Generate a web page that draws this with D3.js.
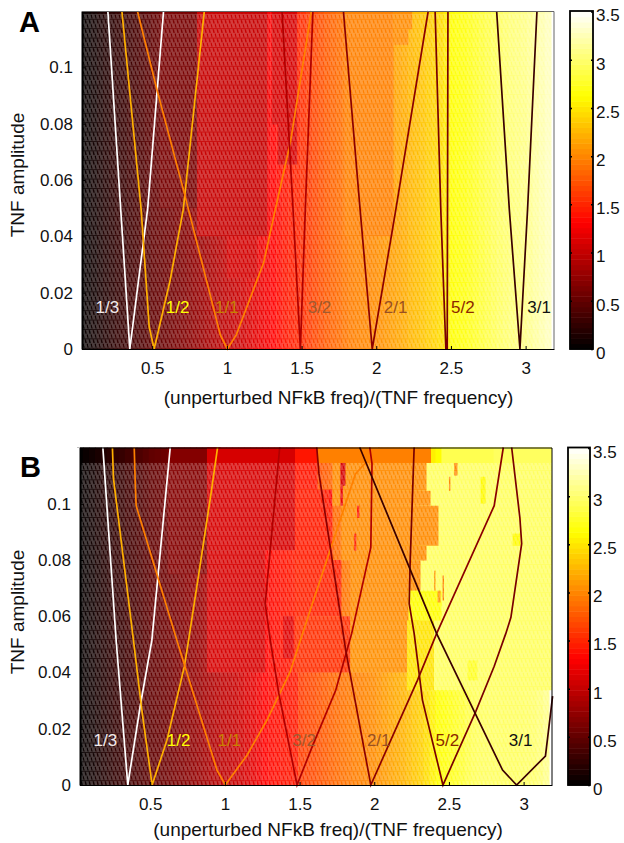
<!DOCTYPE html>
<html>
<head>
<meta charset="utf-8">
<script src="https://cdn.jsdelivr.net/npm/d3@7"></script>
<style>
body { margin: 0; background: #fff; }
text { font-family: "Liberation Sans", Arial, sans-serif; fill: #111; }
.axis text { font-size: 17px; }
.axis line, .axis path { stroke: #000; }
</style>
</head>
<body>
<div id="chart"></div>
<script>
// tick labels
var xTicks = [0.5, 1, 1.5, 2, 2.5, 3];
var yTicks = [0, 0.02, 0.04, 0.06, 0.08, 0.1];
var barTicks = [0, 0.5, 1, 1.5, 2, 2.5, 3, 3.5];
var ratioLabels = ["1/3", "1/2", "1/1", "3/2", "2/1", "5/2", "3/1"];
var lineColors = ["#ffffff", "#ffb000", "#ff8000", "#b00000", "#8b0000", "#7a0000", "#3a0000"];
var labelColors = ["#f2eaea", "#ffff00", "#c88000", "#a05a30", "#9a5020", "#8c2800", "#111111"];

// column values of the heat map, one every 0.04 starting at x=0.03
var columnsA = [.02,.05,.09,.13,.17,.21,.25,.28,.33,.36,.40,.45,.50,.52,.55,.58,.62,.66,.70,.74,
  .79,.84,.89,.93,.98,1.0,1.03,1.07,1.12,1.17,1.22,1.26,1.32,1.37,1.42,1.46,1.50,1.55,1.62,1.68,
  1.73,1.78,1.83,1.87,1.92,1.96,1.98,2.0,2.01,2.03,2.06,2.09,2.13,2.16,2.2,2.25,2.28,2.32,2.36,2.4,
  2.44,2.52,2.62,2.65,2.68,2.72,2.77,2.82,2.87,2.92,2.96,3.0,3.03,3.05,3.08,3.12,3.17,3.22,3.27];
var columnsB = [.02,.05,.09,.13,.17,.21,.25,.28,.33,.36,.40,.45,.50,.52,.55,.58,.62,.66,.70,.74,
  .79,.84,.89,.93,.98,1.0,1.03,1.07,1.12,1.18,1.24,1.32,1.36,1.38,1.40,1.42,1.44,1.62,1.66,1.7,
  1.74,1.78,1.82,1.86,1.9,1.93,1.96,1.98,2.0,2.03,2.07,2.11,2.15,2.19,2.23,2.28,2.33,2.38,2.45,2.55,
  2.62,2.66,2.7,2.75,2.8,2.87,2.92,2.94,2.95,2.95,2.95,2.95,2.95,2.95,2.96,2.97,2.99,3.03,3.1];

// plateaus laid over the columns: x0, x1, y0, y1, value
var patchesA = [
  [0.55, 0.80, 0.05, 0.12, 0.62],
  [0.80, 1.27, 0.04, 0.12, 1.02],
  [1.00, 1.20, 0.025, 0.04, 1.08],
  [1.30, 1.47, 0.0797, 0.12, 1.1],
  [1.34, 1.47, 0.0655, 0.0797, 1.1],
  [1.79, 2.115, 0.04, 0.12, 1.97],
  [2.115, 2.24, 0.1135, 0.12, 2.03],
  [2.115, 2.215, 0.108, 0.1135, 2.03]
];
var patchesB = [
  [0.62, 0.97, 0.075, 0.12, 0.68],
  [0.88, 1.47, 0.0835, 0.12, 1.1],
  [0.88, 1.27, 0.04, 0.0835, 1.1],
  [1.39, 1.46, 0.045, 0.06, 1.15],
  [1.47, 1.62, 0.105, 0.12, 1.42],
  [1.47, 1.72, 0.08, 0.105, 1.45],
  [1.47, 1.78, 0.06, 0.08, 1.48],
  [1.47, 1.84, 0.04, 0.06, 1.55],
  [2.3, 3.19, 0.0337, 0.1145, 2.95],
  [2.45, 2.8, 0.1145, 0.12, 2.9],
  [2.8, 3.19, 0.1145, 0.12, 2.95],
  [1.62, 2.38, 0.1145, 0.12, 1.97],
  [1.72, 2.35, 0.1046, 0.1145, 2.03],
  [1.72, 2.377, 0.0993, 0.1046, 2.03],
  [1.78, 2.43, 0.0851, 0.0993, 2.03],
  [1.78, 2.35, 0.0798, 0.0851, 2.03],
  [1.84, 2.31, 0.0691, 0.0798, 2.03],
  [1.84, 2.23, 0.0585, 0.0691, 2.03],
  [1.84, 2.22, 0.04, 0.0585, 2.05],
  [2.23, 2.45, 0.0585, 0.0691, 2.62],
  [2.22, 2.4, 0.0337, 0.0585, 2.48],
  // streaks
  [1.773, 1.807, 0.1064, 0.1145, 1.1],
  [1.773, 1.79, 0.0993, 0.1064, 1.2],
  [1.70, 1.715, 0.0993, 0.105, 1.3],
  [1.885, 1.9, 0.095, 0.0993, 1.4],
  [1.865, 1.88, 0.0833, 0.0894, 1.5],
  [2.535, 2.557, 0.11, 0.1145, 2.0],
  [2.50, 2.51, 0.1046, 0.1096, 2.0],
  [2.712, 2.745, 0.1, 0.1096, 2.6],
  [2.926, 2.98, 0.0851, 0.0894, 2.6],
  [2.457, 2.467, 0.0656, 0.0745, 2.0],
  [2.424, 2.444, 0.0649, 0.0691, 2.1],
  [2.40, 2.41, 0.0691, 0.0762, 2.1],
  [2.625, 2.69, 0.0372, 0.0443, 2.75]
];

// tongue outlines, [x, y]
var a13 = [[.203,.12],[.35,0],[.47,.05],[.576,.12]];
var a12 = [[.297,.12],[.426,.0495],[.48,.0078],[.513,0],[.621,.0246],[.674,.0399],[.708,.0495],[.849,.12]];
var a11 = [[.401,.12],[.531,.0922],[.721,.0541],[.956,.005],[1.003,0],[1.063,.005],[1.246,.0306],[1.324,.0495],[1.425,.0733],[1.566,.12]];
var a32 = [[1.369,.12],[1.443,.0495],[1.492,0],[1.525,.0495],[1.576,.12]];
var a21 = [[1.78,.12],[1.892,.0495],[1.973,0],[2.131,.0495],[2.348,.12]];
var a52 = [[2.394,.12],[2.432,.0495],[2.466,0],[2.475,0],[2.477,.0495],[2.48,.12]];
var a31 = [[2.806,.12],[2.891,.0495],[2.962,0],[3.013,.0495],[3.076,.12]];
var curvesA = [a13, a12, a11, a32, a21, a52, a31];

var b13 = [[.183,.12],[.272,.0514],[.35,0],[.433,.028],[.511,.0514],[.634,.12]];
var b12 = [[.247,.12],[.254,.109],[.388,.0514],[.444,.0266],[.513,0],[.612,.0159],[.728,.042],[.757,.0514],[.907,.1035],[.951,.12]];
var b11 = [[.393,.12],[.4,.107],[.406,.0993],[.679,.0514],[.947,.0053],[1.003,0],[1.148,.0106],[1.282,.0231],[1.438,.0404],[1.505,.0514],[1.586,.0645],[1.874,.1106],[2.035,.12]];
var b32 = [[1.367,.12],[1.27,.0645],[1.304,.0514],[1.361,.0326],[1.483,0],[1.586,.0138],[1.742,.0337],[1.849,.0539],[1.977,.0845],[1.985,.1142],[1.97,.12]];
var b21 = [[1.615,.12],[1.63,.1106],[1.706,.0844],[1.809,.0479],[1.977,0],[2.289,.0372],[2.418,.0539],[2.803,.0993],[2.864,.12]];
var b52 = [[2.267,.12],[2.24,.0787],[2.234,.0645],[2.267,.0539],[2.323,.0301],[2.46,0],[2.68,.0262],[2.803,.0422],[2.881,.0539],[2.915,.0596],[2.987,.0858],[2.975,.095],[2.92,.12]];
var b31 = [[1.903,.12],[2.417,.0539],[2.859,.0053],[2.953,0],[3.146,.0103],[3.183,.0266],[3.194,.0316]];
var curvesB = [b13, b12, b11, b32, b21, b52, b31];

var labelXA = [0.2, 0.67, 1.0, 1.62, 2.13, 2.58, 3.09];
var labelXB = [0.2, 0.69, 1.03, 1.53, 2.03, 2.49, 2.98];
var labelYA = 0.0149;
var labelYB = 0.0159;

var svg = d3.select("#chart").append("svg")
    .attr("width", 624)
    .attr("height", 843);

// MATLAB "hot"
var heat = d3.scaleLinear()
    .domain([0, 1.3125, 2.625, 3.5])
    .range(["#000000", "#ff0000", "#ffff00", "#ffffff"])
    .clamp(true);

// white veil with holes, the raw colour shows through the dashes
var defs = svg.append("defs");
defs.append("pattern")
    .attr("id", "weave")
    .attr("patternUnits", "userSpaceOnUse")
    .attr("width", 4)
    .attr("height", 9.4)
  .append("path")
    .attr("fill", "#fff")
    .attr("fill-opacity", 0.24)
    .attr("fill-rule", "evenodd")
    .attr("d", "M0,0.7H4V9.4H0Z M0.6,1.2L2,1.2L2.8,4.8L1.4,4.8Z M2.6,5.4L4,5.4L4,8.9L3.4,8.9Z M0,7L0.8,8.9L0,8.9Z");

function drawPanel(p) {
    var x = d3.scaleLinear().domain([0.03, 3.19]).range([p.left, p.right]);
    var y = d3.scaleLinear().domain([0, 0.12]).range([p.bottom, p.top]);
    var g = svg.append("g");

    g.selectAll(".col")
        .data(p.columns)
        .enter().append("rect")
        .attr("class", "col")
        .attr("x", function(d, i) { return x(0.01 + 0.04 * i); })
        .attr("y", p.top)
        .attr("width", function(d, i) { return x(0.05 + 0.04 * i) - x(0.01 + 0.04 * i) + 0.5; })
        .attr("height", p.bottom - p.top)
        .attr("fill", function(d) { return heat(d); });

    g.selectAll(".patch")
        .data(p.patches)
        .enter().append("rect")
        .attr("class", "patch")
        .attr("x", function(d) { return x(d[0]); })
        .attr("y", function(d) { return y(d[3]); })
        .attr("width", function(d) { return x(d[1]) - x(d[0]); })
        .attr("height", function(d) { return y(d[2]) - y(d[3]); })
        .attr("fill", function(d) { return heat(d[4]); });

    // cover what spills out of the left edge
    g.append("rect")
        .attr("x", p.left - 12)
        .attr("y", p.top)
        .attr("width", 12)
        .attr("height", p.bottom - p.top)
        .attr("fill", "#fff");

    g.append("rect")
        .attr("x", p.left)
        .attr("y", y(p.veilTop))
        .attr("width", p.right - p.left)
        .attr("height", p.bottom - y(p.veilTop))
        .attr("fill", "url(#weave)");

    var line = d3.line()
        .x(function(d) { return x(d[0]); })
        .y(function(d) { return y(d[1]); });

    g.selectAll(".curve")
        .data(p.curves)
        .enter().append("path")
        .attr("class", "curve")
        .attr("d", line)
        .attr("fill", "none")
        .attr("stroke", function(d, i) { return lineColors[i]; })
        .attr("stroke-width", 1.7);

    g.selectAll(".ratio")
        .data(ratioLabels)
        .enter().append("text")
        .attr("class", "ratio")
        .attr("x", function(d, i) { return x(p.labelX[i]); })
        .attr("y", y(p.labelY))
        .attr("dy", "0.35em")
        .attr("text-anchor", "middle")
        .style("font-size", "17px")
        .style("fill", function(d, i) { return labelColors[i]; })
        .text(function(d) { return d; });

    // axes with the MATLAB inward ticks
    g.append("g")
        .attr("class", "axis")
        .attr("transform", "translate(0," + p.bottom + ")")
        .call(d3.axisBottom(x).tickValues(xTicks).tickSizeInner(-3).tickSizeOuter(0).tickPadding(13)
            .tickFormat(function(d) { return String(d); }));

    g.append("g")
        .attr("class", "axis")
        .attr("transform", "translate(" + p.left + ",0)")
        .call(d3.axisLeft(y).tickValues(yTicks).tickSizeInner(-3).tickSizeOuter(0).tickPadding(9)
            .tickFormat(function(d) { return String(d); }))
        .select(".domain").attr("stroke-width", 2);

    g.append("path")
        .attr("d", "M" + p.left + "," + (p.top + 0.5) + "H" + p.right + "V" + p.bottom)
        .attr("fill", "none")
        .attr("stroke", p.frame)
        .attr("stroke-width", 1);

    g.append("text")
        .attr("x", p.xLabelX)
        .attr("y", p.xLabelY)
        .attr("text-anchor", "middle")
        .style("font-size", "19px")
        .text("(unperturbed NFkB freq)/(TNF frequency)");

    g.append("text")
        .attr("transform", "translate(24," + p.yLabelY + ") rotate(-90)")
        .attr("text-anchor", "middle")
        .style("font-size", "19px")
        .text("TNF amplitude");

    g.append("text")
        .attr("x", p.letterX)
        .attr("y", p.letterY)
        .style("font-size", "29px")
        .style("font-weight", "bold")
        .style("fill", "#000")
        .text(p.letter);

    // colour bar
    var by = d3.scaleLinear().domain([0, 3.5]).range([p.bottom, p.top + 0.5]);
    g.selectAll(".level")
        .data(d3.range(64))
        .enter().append("rect")
        .attr("class", "level")
        .attr("x", p.barLeft)
        .attr("y", function(d) { return by((d + 1) * 3.5 / 64); })
        .attr("width", p.barRight - p.barLeft)
        .attr("height", function(d) { return by(d * 3.5 / 64) - by((d + 1) * 3.5 / 64) + 0.5; })
        .attr("fill", function(d) { return heat((d + 0.5) * 3.5 / 64); });

    g.append("rect")
        .attr("x", p.barLeft)
        .attr("y", p.top)
        .attr("width", p.barRight - p.barLeft)
        .attr("height", p.bottom - p.top)
        .attr("fill", "none")
        .attr("stroke", "#000")
        .attr("stroke-width", 1.8);

    var barAxis = g.append("g")
        .attr("class", "axis")
        .attr("transform", "translate(" + p.barRight + ",0)")
        .call(d3.axisRight(by).tickValues(barTicks).tickSizeInner(-2).tickSizeOuter(0).tickPadding(3)
            .tickFormat(function(d) { return String(d); }));
    barAxis.select(".domain").remove();
    barAxis.selectAll("text").attr("dy", "0.55em");
    barAxis.selectAll("line").attr("stroke-width", 1.5);

    barAxis.selectAll(".tick").filter(function(d) { return d > 0 && d < 3.5; })
        .append("line")
        .attr("x1", p.barLeft - p.barRight)
        .attr("x2", p.barLeft - p.barRight + 2)
        .attr("stroke-width", 1.5);
}

drawPanel({
    letter: "A", letterX: 19, letterY: 32,
    left: 82, right: 554, top: 11, bottom: 349,
    barLeft: 570, barRight: 593,
    columns: columnsA, patches: patchesA, curves: curvesA,
    labelX: labelXA, labelY: labelYA, veilTop: 0.119, frame: "#666",
    xLabelX: 338.5, xLabelY: 404, yLabelY: 175
});

drawPanel({
    letter: "B", letterX: 20, letterY: 477,
    left: 80, right: 552, top: 447.5, bottom: 785,
    barLeft: 568, barRight: 590,
    columns: columnsB, patches: patchesB, curves: curvesB,
    labelX: labelXB, labelY: labelYB, veilTop: 0.1145, frame: "#000",
    xLabelX: 328, xLabelY: 836, yLabelY: 612
});
</script>
</body>
</html>
